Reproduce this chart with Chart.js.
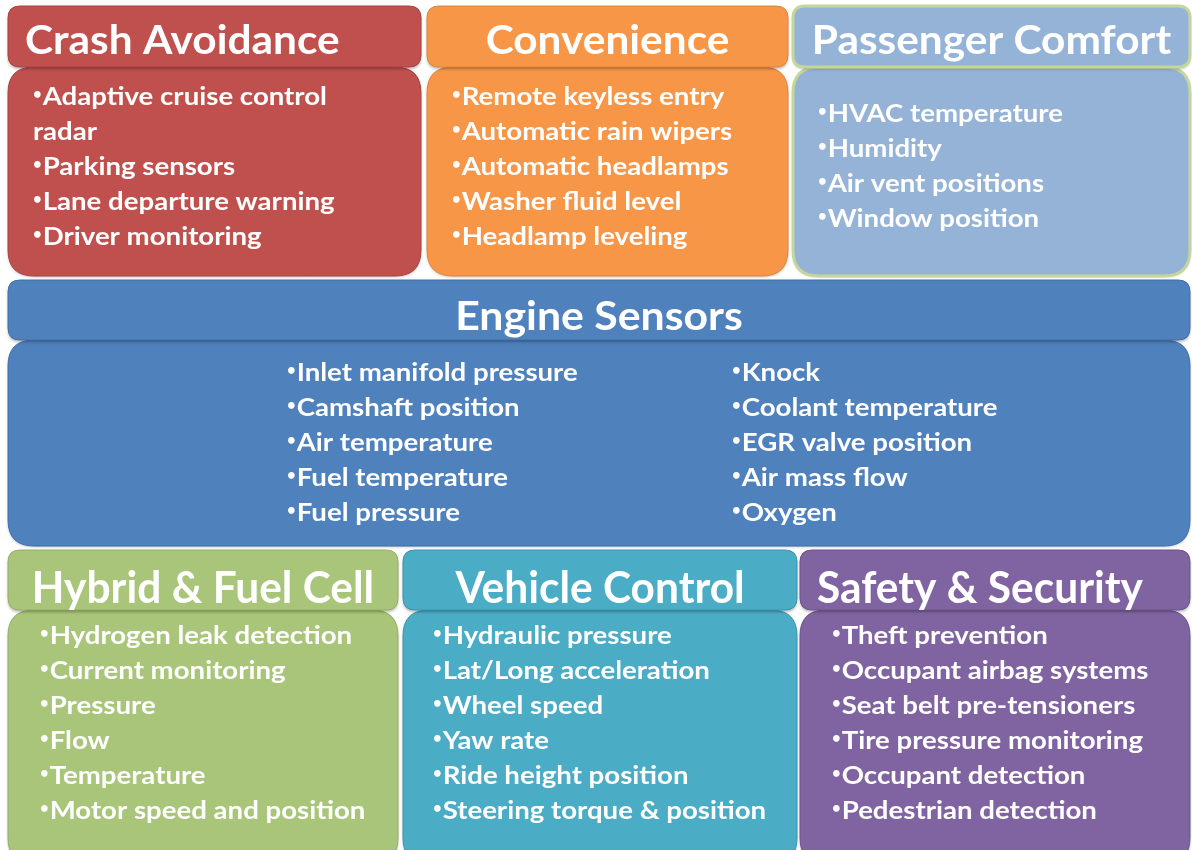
<!DOCTYPE html>
<html lang="en">
<head>
    <meta charset="UTF-8">
    <title>Automotive Sensor Applications</title>
    <script src="https://cdn.jsdelivr.net/npm/chart.js"></script>
    <style>
html, body {
  margin: 0;
  padding: 0;
  background: #ffffff;
}
.board {
  width: 1192px;
  height: 850px;
  position: relative;
}
    </style>
</head>
<body>
    <div class="board">
        <canvas id="sensorBoard"></canvas>
    </div>

    <script>
// Panel titles, in reading order
const categories = ['Crash Avoidance', 'Convenience', 'Passenger Comfort', 'Engine Sensors',
    'Hybrid & Fuel Cell', 'Vehicle Control', 'Safety & Security'];

// Bullet lists for each panel
const crashAvoidance = ['Adaptive cruise control\nradar', 'Parking sensors', 'Lane departure warning', 'Driver monitoring'];
const convenience = ['Remote keyless entry', 'Automatic rain wipers', 'Automatic headlamps', 'Washer fluid level', 'Headlamp leveling'];
const passengerComfort = ['HVAC temperature', 'Humidity', 'Air vent positions', 'Window position'];
const engineLeft = ['Inlet manifold pressure', 'Camshaft position', 'Air temperature', 'Fuel temperature', 'Fuel pressure'];
const engineRight = ['Knock', 'Coolant temperature', 'EGR valve position', 'Air mass flow', 'Oxygen'];
const hybridFuelCell = ['Hydrogen leak detection', 'Current monitoring', 'Pressure', 'Flow', 'Temperature', 'Motor speed and position'];
const vehicleControl = ['Hydraulic pressure', 'Lat/Long acceleration', 'Wheel speed', 'Yaw rate', 'Ride height position', 'Steering torque & position'];
const safetySecurity = ['Theft prevention', 'Occupant airbag systems', 'Seat belt pre-tensioners', 'Tire pressure monitoring', 'Occupant detection', 'Pedestrian detection'];

// columns of text per panel
const panelLists = [
    [crashAvoidance], [convenience], [passengerComfort], [engineLeft, engineRight],
    [hybridFuelCell], [vehicleControl], [safetySecurity]
];

// ---- layout (board units, mapped through the chart's x/y scales) ----
const rows = [
    { top: 6,   head: 61, bottom: 276, titleSize: 40, titleStretch: 1.06, baseline: 48, textMid: 167, cells: [[8, 421], [427, 788], [793, 1190]] },
    { top: 280, head: 60, bottom: 546, titleSize: 40, titleStretch: 1.07, baseline: 50, textMid: 443, cells: [[8, 1190]] },
    { top: 550, head: 60, bottom: 864, titleSize: 44, titleStretch: 0.965, baseline: 53, textMid: 724, cells: [[8, 398], [403, 797], [800, 1190]] }
];
const fills   = ['#c0504d', '#f79646', '#95b3d7', '#4f81bd', '#a8c579', '#4bacc6', '#8064a2'];
const edges   = ['#a8423f', '#e0843a', '#c3d69b', '#3f6ea6', '#93b064', '#3b95ad', '#6c538c'];
const titleAlign = ['left', 'center', 'center', 'center', 'center', 'center', 'left'];
const textCols = [[25], [25], [25], [279, 724], [32], [30], [32]];
const lineGap = 35;
const itemStretch = 1.15;

function roundRect(ctx, x, y, w, h, r) {
    ctx.beginPath();
    ctx.moveTo(x + r, y);
    ctx.lineTo(x + w - r, y);
    ctx.quadraticCurveTo(x + w, y, x + w, y + r);
    ctx.lineTo(x + w, y + h - r);
    ctx.quadraticCurveTo(x + w, y + h, x + w - r, y + h);
    ctx.lineTo(x + r, y + h);
    ctx.quadraticCurveTo(x, y + h, x, y + h - r);
    ctx.lineTo(x, y + r);
    ctx.quadraticCurveTo(x, y, x + r, y);
    ctx.closePath();
}

// text drawn with a horizontal stretch (the source lettering is wide)
function stretchedText(ctx, text, x, y, stretch) {
    ctx.save();
    ctx.translate(x, y);
    ctx.scale(stretch, 1);
    ctx.fillText(text, 0, 0);
    ctx.restore();
}

const panelPlugin = {
    id: 'panels',
    afterDatasetsDraw(chart) {
        const ctx = chart.ctx;
        const sx = chart.scales.x, sy = chart.scales.y;
        const px = v => sx.getPixelForValue(v);
        const py = v => sy.getPixelForValue(v);
        let idx = 0;
        rows.forEach(row => {
            row.cells.forEach(cell => {
                const i = idx++;
                const x0 = px(cell[0]), x1 = px(cell[1]);
                const hy0 = py(row.top), hy1 = py(row.top + row.head), by1 = py(row.bottom);
                const thick = i === 2 ? 3 : 1;

                ctx.save();
                // body
                ctx.shadowColor = 'rgba(0,0,0,0.25)';
                ctx.shadowBlur = 3;
                ctx.shadowOffsetY = 1;
                roundRect(ctx, x0, hy1, x1 - x0, by1 - hy1, 26);
                ctx.fillStyle = fills[i];
                ctx.fill();
                ctx.shadowColor = 'transparent';
                ctx.lineWidth = thick;
                ctx.strokeStyle = edges[i];
                ctx.stroke();
                // header
                ctx.shadowColor = 'rgba(0,0,0,0.3)';
                ctx.shadowBlur = 3;
                ctx.shadowOffsetY = 2;
                roundRect(ctx, x0, hy0, x1 - x0, hy1 - hy0, 12);
                ctx.fillStyle = fills[i];
                ctx.fill();
                ctx.shadowColor = 'transparent';
                ctx.stroke();
                ctx.restore();

                // title
                ctx.save();
                ctx.fillStyle = '#ffffff';
                ctx.font = 'bold ' + row.titleSize + 'px Lato';
                ctx.textBaseline = 'alphabetic';
                ctx.textAlign = titleAlign[i];
                const tx = titleAlign[i] === 'left' ? x0 + 17 : (x0 + x1) / 2;
                stretchedText(ctx, categories[i], tx, hy0 + row.baseline, row.titleStretch);
                ctx.restore();

                // bullet lists
                panelLists[i].forEach((list, c) => {
                    const lines = [];
                    list.forEach(item => item.split('\n').forEach((part, k) => lines.push({ text: part, bullet: k === 0 })));
                    let y = py(row.textMid) - (lines.length - 1) * lineGap / 2;
                    const lx = x0 + textCols[i][c];
                    ctx.save();
                    ctx.fillStyle = '#ffffff';
                    ctx.textBaseline = 'middle';
                    ctx.textAlign = 'left';
                    lines.forEach(ln => {
                        let x = lx;
                        if (ln.bullet) {
                            ctx.font = 'bold 15px Lato';
                            stretchedText(ctx, '\u2022', x, y - 3, 1);
                            x += ctx.measureText('\u2022').width + 1;
                        }
                        ctx.font = 'bold 24px Lato';
                        stretchedText(ctx, ln.text, x, y, itemStretch);
                        y += lineGap;
                    });
                    ctx.restore();
                });
            });
        });
    }
};

function createBoard() {
    const ctx = document.getElementById('sensorBoard').getContext('2d');
    new Chart(ctx, {
        type: 'scatter',
        data: { datasets: [{ data: [] }] },
        options: {
            responsive: true,
            maintainAspectRatio: false,
            animation: false,
            layout: { padding: 0 },
            scales: {
                x: { type: 'linear', min: 0, max: 1192, display: false },
                y: { type: 'linear', min: 0, max: 850, reverse: true, display: false }
            },
            plugins: {
                legend: { display: false },
                tooltip: { enabled: false }
            }
        },
        plugins: [panelPlugin]
    });
}

if (document.readyState === 'loading') {
    document.addEventListener('DOMContentLoaded', createBoard);
} else {
    createBoard();
}
    </script>
</body>
</html>
